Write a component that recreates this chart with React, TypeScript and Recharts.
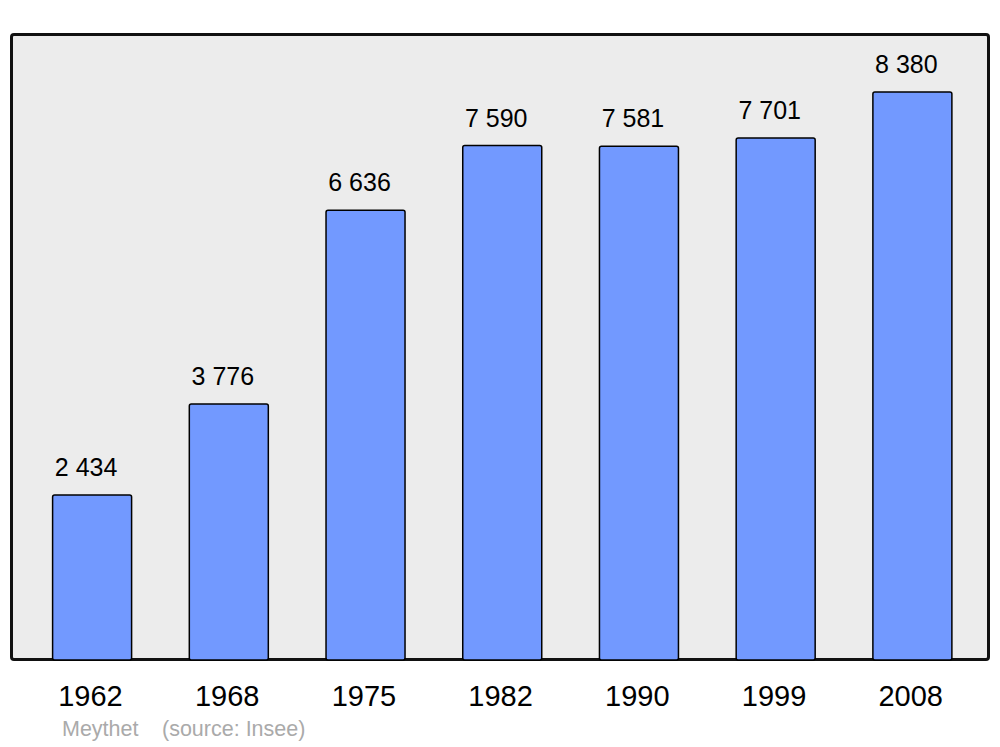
import { BarChart, Bar, XAxis, YAxis, LabelList } from "recharts";

const years = ["1962", "1968", "1975", "1982", "1990", "1999", "2008"];
const population = [2434, 3776, 6636, 7590, 7581, 7701, 8380];

const data = years.map((year, i) => ({ year, value: population[i] }));

// French style thousands: "7 590"
const fmt = (v: number) => String(v).replace(/\B(?=(\d{3})+(?!\d))/g, " ");

const font = "'Liberation Sans', Arial, sans-serif";

export default function App() {
  return (
    <div style={{ position: "absolute", left: 0, top: 0, width: 1000, height: 747, background: "#fff", fontFamily: font }}>
      {/* panel background */}
      <div
        style={{
          position: "absolute",
          left: 10,
          top: 33,
          width: 980,
          height: 628,
          boxSizing: "border-box",
          border: "3px solid #111",
          borderRadius: 4,
          background: "#ececec",
        }}
      />
      <div style={{ position: "absolute", left: 0, top: 0 }}>
        <BarChart
          width={1000}
          height={747}
          data={data}
          margin={{ top: 34, right: 19.4, bottom: 57, left: 23.6 }}
          barSize={79}
        >
          <XAxis
            dataKey="year"
            height={30}
            axisLine={false}
            tickLine={false}
            tickSize={0}
            tickMargin={25}
            tick={{ fill: "#000", fontSize: 29, fontFamily: font, dx: -1.5 }}
          />
          <YAxis hide type="number" domain={[0, 9236]} />
          <Bar dataKey="value" fill="#7299ff" stroke="#000" strokeWidth={1.5} radius={2} isAnimationActive={false}>
            <LabelList
              dataKey="value"
              position="top"
              offset={19}
              formatter={(v: any) => fmt(Number(v))}
              style={{ fill: "#000", fontSize: 25, fontFamily: font }}
              dx={-6}
            />
          </Bar>
        </BarChart>
      </div>
      <div style={{ position: "absolute", left: 62, top: 717, fontSize: 21.5, color: "#aaa", whiteSpace: "pre" }}>
        Meythet
      </div>
      <div style={{ position: "absolute", left: 162, top: 717, fontSize: 21.5, color: "#aaa", whiteSpace: "pre" }}>
        (source: Insee)
      </div>
    </div>
  );
}
